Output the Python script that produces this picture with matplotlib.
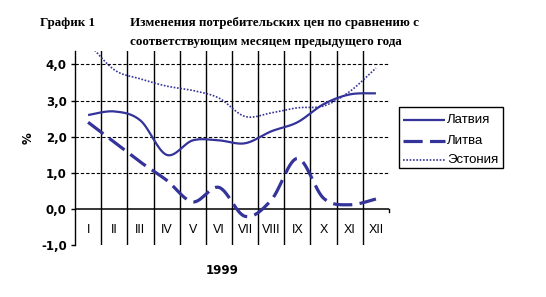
import numpy as np
import matplotlib
matplotlib.use("Agg")
import matplotlib.pyplot as plt
from matplotlib.lines import Line2D
from matplotlib.patches import Rectangle

months = ["I", "II", "III", "IV", "V", "VI", "VII", "VIII", "IX", "X", "XI", "XII"]
latvia = [2.6, 2.7, 2.45, 1.5, 1.9, 1.9, 1.82, 2.15, 2.4, 2.9, 3.17, 3.2]
lithuania = [2.4, 1.85, 1.3, 0.8, 0.2, 0.6, -0.2, 0.25, 1.4, 0.3, 0.12, 0.28]
estonia = [4.6, 3.85, 3.6, 3.4, 3.28, 3.07, 2.56, 2.66, 2.8, 2.85, 3.25, 3.9]
series_names = ["Латвия", "Литва", "Эстония"]
yticks = [-1.0, 0.0, 1.0, 2.0, 3.0, 4.0]
year_label = "1999"
title_left = "График 1"
title_lines = ["Изменения потребительских цен по сравнению с",
               "соответствующим месяцем предыдущего года"]

COLOR = "#333399"


def smooth(xs, ys, n=30):
    """Excel-like Catmull-Rom smoothing through the data points."""
    P = np.column_stack([xs, ys]).astype(float)
    Pext = np.vstack([P[0], P, P[-1]])
    out = []
    for i in range(len(P) - 1):
        p0, p1, p2, p3 = Pext[i], Pext[i + 1], Pext[i + 2], Pext[i + 3]
        m1 = (p2 - p0) / 2.0
        m2 = (p3 - p1) / 2.0
        t = np.linspace(0, 1, n, endpoint=(i == len(P) - 2))[:, None]
        h00 = 2 * t**3 - 3 * t**2 + 1
        h10 = t**3 - 2 * t**2 + t
        h01 = -2 * t**3 + 3 * t**2
        h11 = t**3 - t**2
        out.append(h00 * p1 + h10 * m1 + h01 * p2 + h11 * m2)
    arr = np.vstack(out)
    return arr[:, 0], arr[:, 1]


W, H = 546, 297
fig = plt.figure(figsize=(W / 100, H / 100), dpi=100)
fig.patch.set_facecolor("white")

ymin, ymax = -1.0, 4.37
left_px, right_px = 75, 389
bot_px, top_px = 245.3, 51
ax = fig.add_axes([left_px / W, 1 - bot_px / H, (right_px - left_px) / W, (bot_px - top_px) / H])
ax.set_xlim(0.5, 12.5)
ax.set_ylim(ymin, ymax)
ax.set_facecolor("none")

x = np.arange(1, len(months) + 1)

# grid: dashed horizontal lines
for v in yticks:
    if v in (0.0, -1.0):
        continue
    ax.axhline(v, color="black", lw=0.8, linestyle=(0, (3, 1.8)), zorder=1)
# zero axis line
ax.axhline(0.0, color="black", lw=1.1, zorder=2)
# vertical category separators
for b in np.arange(1.5, 12.5, 1.0):
    ax.axvline(b, color="black", lw=1.0, zorder=1)
# small tick at end of category axis
ax.plot([12.5, 12.5], [0.0, -0.08], color="black", lw=1.0, clip_on=False)

for s in ["top", "right", "bottom"]:
    ax.spines[s].set_visible(False)
ax.spines["left"].set_linewidth(1.0)
ax.set_xticks([])
ax.set_yticks(yticks)
ax.set_yticklabels([f"{v:.1f}".replace(".", ",") for v in yticks],
                   fontfamily="DejaVu Sans", fontweight="bold", fontsize=8.5)
ax.tick_params(axis="y", length=3, width=1.0, pad=3, direction="out")

# month labels
for xi, m in zip(x, months):
    ax.text(xi, -0.58, m, ha="center", va="center", fontsize=9,
            fontfamily="Liberation Sans", color="black")

# series
sx, sy = smooth(x, latvia)
l1, = ax.plot(sx, sy, color=COLOR, lw=1.6, zorder=4, solid_capstyle="butt")
sx, sy = smooth(x, lithuania)
l2, = ax.plot(sx, sy, color=COLOR, lw=2.3, linestyle=(0, (6, 2.3)), zorder=4, dash_capstyle="butt")
sx, sy = smooth(x, estonia)
l3, = ax.plot(sx, sy, color=COLOR, lw=1.2, linestyle=(0, (1, 1)), zorder=4)

# % label
fig.text(28 / W, 1 - 138 / H, "%", rotation=90, ha="center", va="center",
         fontfamily="DejaVu Sans", fontweight="bold", fontsize=8.5)

# year label
fig.text(222 / W, 1 - 270 / H, year_label, ha="center", va="center",
         fontfamily="DejaVu Sans", fontweight="bold", fontsize=8.5)

# titles
tkw = dict(ha="left", va="center", fontfamily="Liberation Serif", fontweight="bold", fontsize=9.4)
fig.text(40 / W, 1 - 23 / H, title_left, **tkw)
fig.text(130 / W, 1 - 23 / H, title_lines[0], **tkw)
fig.text(130 / W, 1 - 42 / H, title_lines[1], **tkw)

# legend (manual, in figure pixel coordinates)
bx0, bx1, by0, by1 = 399, 503, 107, 168
fig.patches.append(Rectangle((bx0 / W, 1 - by1 / H), (bx1 - bx0) / W, (by1 - by0) / H,
                             transform=fig.transFigure, fill=False, edgecolor="black", lw=1.0))
rows = [120, 140.5, 160]
dashes = [None, (6, 2.3), (1, 1)]
for line, name, yy, dsh in zip([l1, l2, l3], series_names, rows, dashes):
    ln = Line2D([403 / W, 445 / W], [1 - yy / H, 1 - yy / H], transform=fig.transFigure,
                color=line.get_color(), lw=line.get_linewidth(), solid_capstyle="butt",
                dash_capstyle="butt")
    if dsh is not None:
        ln.set_dashes(dsh)
    fig.lines.append(ln)
    fig.text(447 / W, 1 - yy / H, name, ha="left", va="center",
             fontfamily="Liberation Sans", fontsize=9.5, color="black")

fig.savefig("out.png", dpi=100, facecolor="white")
